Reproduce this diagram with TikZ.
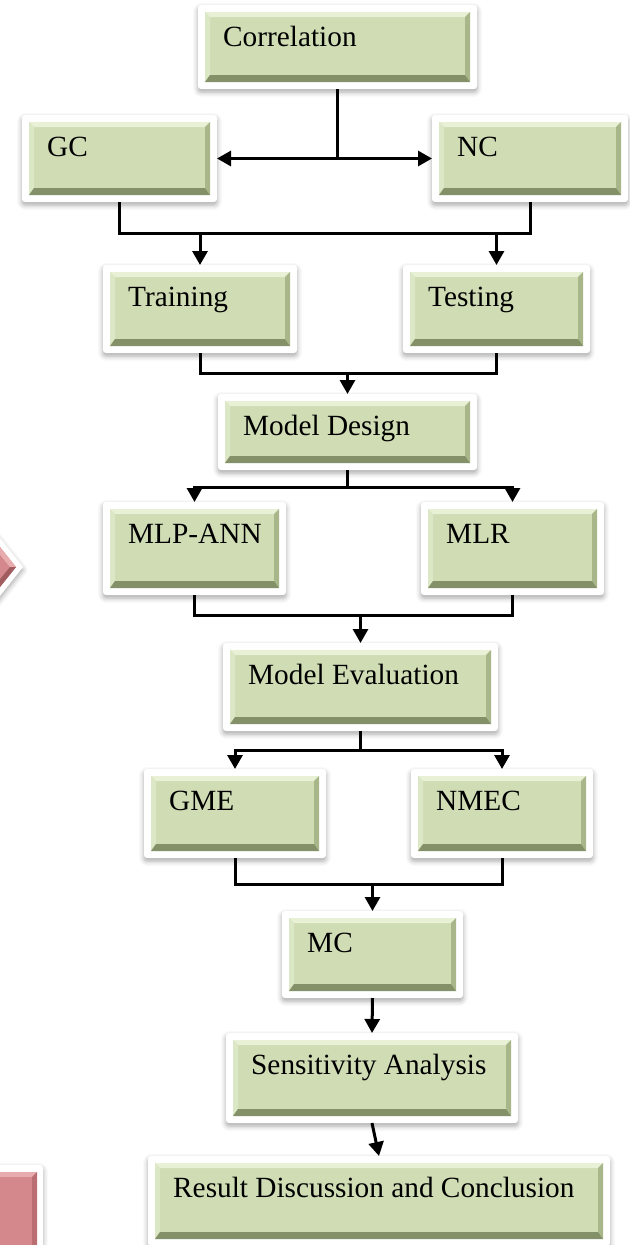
\documentclass[tikz,border=0pt]{standalone}
\usepackage{fontspec}
\setmainfont{Liberation Serif}
\usetikzlibrary{arrows.meta,shadows.blur,calc}

% green bevelled face
\definecolor{gbase}{RGB}{207,220,180}
\definecolor{gtop}{RGB}{232,240,214}
\definecolor{gleft}{RGB}{220,231,198}
\definecolor{gright}{RGB}{168,182,138}
\definecolor{gbot}{RGB}{132,145,104}
% pink bevelled face
\definecolor{pbase}{RGB}{212,136,139}
\definecolor{ptop}{RGB}{232,172,174}
\definecolor{pleft}{RGB}{224,158,160}
\definecolor{pright}{RGB}{186,110,113}
\definecolor{pbot}{RGB}{160,92,95}

\tikzset{
  frame/.style={rectangle, fill=white, rounded corners=3bp, inner sep=0pt, outer sep=0pt,
    blur shadow={shadow xshift=0bp, shadow yshift=-3bp, shadow blur radius=5bp, shadow opacity=35}},
  lbl/.style={anchor=base west, inner sep=0pt, text=black,
    font=\fontsize{29.3bp}{34bp}\selectfont},
  conn/.style={line width=3bp, black},
  arr/.style={conn, -{Triangle[width=15bp,length=14bp]}},
  dblarr/.style={conn, {Triangle[width=15bp,length=14bp]}-{Triangle[width=15bp,length=14bp]}}
}

% bevelled face: x1 y1 x2 y2 palette
\newcommand{\faceshape}[5]{%
  \fill[#5base] (#1,#2) rectangle (#3,#4);
  \fill[#5top] (#1,#2) -- (#3,#2) -- ({#3-5},{#2+5}) -- ({#1+5},{#2+5}) -- cycle;
  \fill[#5left] (#1,#2) -- ({#1+5},{#2+5}) -- ({#1+5},{#4-7}) -- (#1,#4) -- cycle;
  \fill[#5right] (#3,#2) -- (#3,#4) -- ({#3-5},{#4-7}) -- ({#3-5},{#2+5}) -- cycle;
  \fill[#5bot] (#1,#4) -- (#3,#4) -- ({#3-5},{#4-7}) -- ({#1+5},{#4-7}) -- cycle;
}

% framed process box: name, x1 y1 x2 y2 of the white frame, label
\newcommand{\flowbox}[6]{%
  \node[frame, minimum width={(#4-#2)*1bp}, minimum height={(#5-#3)*1bp},
        anchor=north west] (#1) at (#2,#3) {};
  \faceshape{#2+7}{#3+7}{#4-7}{#5-7}{g}
  \node[lbl] (#1-text) at ({#2+25},{#3+41}) {#6};
}

\begin{document}
\begin{tikzpicture}[x=1bp,y=-1bp]
\useasboundingbox (0,0) rectangle (630,1245);
\clip (0,0) rectangle (630,1245);

% side shapes at the left edge
\fill[white, blur shadow={shadow xshift=0bp, shadow yshift=-3bp, shadow blur radius=5bp, shadow opacity=35}]
  (-8,528) -- (23,567) -- (-8,606) -- cycle;
\fill[pbase] (-8,537) -- (16,567) -- (-8,597) -- cycle;
\fill[ptop] (-8,537) -- (16,567) -- (10,567) -- (-8,545) -- cycle;
\fill[pbot] (-8,597) -- (16,567) -- (10,567) -- (-8,589) -- cycle;

\fill[white, rounded corners=3bp, blur shadow={shadow xshift=0bp, shadow yshift=-3bp, shadow blur radius=5bp, shadow opacity=35}]
  (-10,1165) rectangle (43,1260);
\faceshape{-10}{1172}{37}{1260}{p}

% process boxes
\flowbox{corr}{198}{5}{477}{89}{Correlation}
\flowbox{gc}{22}{115}{217}{202}{GC}
\flowbox{nc}{432}{115}{628}{202}{NC}
\flowbox{train}{103}{265}{297}{353}{Training}
\flowbox{test}{403}{265}{590}{353}{Testing}
\flowbox{design}{218}{394}{477}{470}{Model Design}
\flowbox{mlp}{103}{502}{286}{595}{MLP-ANN}
\flowbox{mlr}{421}{502}{604}{595}{MLR}
\flowbox{eval}{223}{643}{498}{731}{Model Evaluation}
\flowbox{gme}{144}{769}{326}{858}{GME}
\flowbox{nmec}{411}{769}{593}{858}{NMEC}
\flowbox{mc}{282}{911}{463}{998}{MC}
\flowbox{sens}{226}{1033}{518}{1123}{Sensitivity Analysis}
\flowbox{res}{148}{1156}{610}{1246}{Result Discussion and Conclusion}

% connectors
\draw[conn] (corr.south) -- (corr.south |- gc.east);
\draw[dblarr] (gc.east) -- (nc.west);

\path (gc.south) ++(0,31) coordinate (bus1);
\draw[conn] (gc.south) -- (bus1) -| (nc.south);
\draw[arr] (train.north |- bus1) -- (train.north);
\draw[arr] (test.north |- bus1) -- (test.north);

\path (train.south) ++(0,20) coordinate (bus2);
\draw[conn] (train.south) -- (bus2) -| (test.south);
\draw[arr] (design.north |- bus2) -- (design.north);

\path (design.south) ++(0,17) coordinate (bus3);
\draw[conn] (design.south) -- (bus3);
\draw[arr] (bus3) -| (mlp.north);
\draw[arr] (bus3) -| (mlr.north);

\path (mlp.south) ++(0,20) coordinate (bus4);
\draw[conn] (mlp.south) -- (bus4) -| (mlr.south);
\draw[arr] (eval.north |- bus4) -- (eval.north);

\path (eval.south) ++(0,19) coordinate (bus5);
\draw[conn] (eval.south) -- (bus5);
\draw[arr] (bus5) -| (gme.north);
\draw[arr] (bus5) -| (nmec.north);

\path (gme.south) ++(0,26) coordinate (bus6);
\draw[conn] (gme.south) -- (bus6) -| (nmec.south);
\draw[arr] (mc.north |- bus6) -- (mc.north);

\draw[arr] (mc.south) -- (sens.north);
\draw[arr] (sens.south) -- (res.north);
\end{tikzpicture}
\end{document}
